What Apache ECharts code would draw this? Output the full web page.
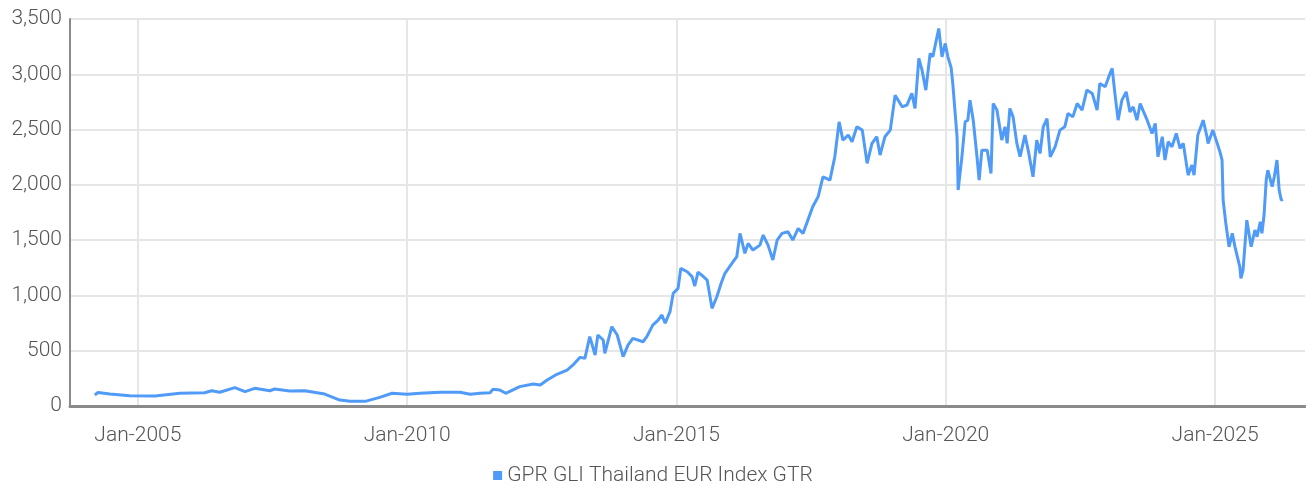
<!DOCTYPE html>
<html>
<head>
<meta charset="utf-8">
<title>GPR GLI Thailand EUR Index GTR</title>
<script src="https://cdn.jsdelivr.net/npm/echarts@6/dist/echarts.min.js"></script>
<style>
  html, body { margin: 0; padding: 0; background: #fff; }
  #chart { width: 1306px; height: 493px; }
</style>
</head>
<body>
<div id="chart"></div>
<script>
// time as decimal years
var years = [
  2004.20, 2004.26, 2004.48, 2004.85, 2005.32, 2005.78, 2006.24, 2006.37, 2006.52, 2006.80,
  2006.99, 2007.17, 2007.45, 2007.54, 2007.82, 2008.10, 2008.47, 2008.75, 2008.94, 2009.22,
  2009.49, 2009.72, 2010.00, 2010.24, 2010.61, 2010.98, 2011.17, 2011.35, 2011.54, 2011.59,
  2011.72, 2011.83, 2012.09, 2012.34, 2012.47, 2012.60, 2012.78, 2012.97, 2013.08, 2013.21,
  2013.30, 2013.39, 2013.49, 2013.54, 2013.64, 2013.67, 2013.80, 2013.90, 2014.01, 2014.10,
  2014.19, 2014.38, 2014.45, 2014.56, 2014.66, 2014.73, 2014.79, 2014.88, 2014.94, 2015.03,
  2015.08, 2015.20, 2015.29, 2015.34, 2015.40, 2015.47, 2015.57, 2015.66, 2015.75, 2015.83,
  2015.90, 2016.03, 2016.12, 2016.18, 2016.27, 2016.33, 2016.42, 2016.55, 2016.61, 2016.70,
  2016.79, 2016.87, 2016.96, 2017.07, 2017.16, 2017.26, 2017.35, 2017.44, 2017.53, 2017.63,
  2017.72, 2017.85, 2017.94, 2018.02, 2018.09, 2018.19, 2018.26, 2018.35, 2018.45, 2018.54,
  2018.63, 2018.72, 2018.78, 2018.87, 2018.97, 2019.06, 2019.19, 2019.28, 2019.37, 2019.43,
  2019.50, 2019.56, 2019.63, 2019.71, 2019.76, 2019.87, 2019.93, 2019.99, 2020.04, 2020.10,
  2020.13, 2020.21, 2020.23, 2020.30, 2020.36, 2020.41, 2020.45, 2020.51, 2020.58, 2020.62,
  2020.67, 2020.77, 2020.84, 2020.88, 2020.95, 2021.04, 2021.10, 2021.14, 2021.19, 2021.25,
  2021.32, 2021.38, 2021.47, 2021.53, 2021.62, 2021.69, 2021.75, 2021.81, 2021.88, 2021.94,
  2022.03, 2022.12, 2022.21, 2022.27, 2022.36, 2022.44, 2022.53, 2022.62, 2022.72, 2022.81,
  2022.86, 2022.96, 2023.05, 2023.09, 2023.14, 2023.20, 2023.27, 2023.35, 2023.42, 2023.48,
  2023.55, 2023.61, 2023.66, 2023.74, 2023.83, 2023.89, 2023.94, 2024.02, 2024.07, 2024.13,
  2024.20, 2024.28, 2024.35, 2024.41, 2024.50, 2024.57, 2024.61, 2024.68, 2024.78, 2024.85,
  2024.87, 2024.96, 2025.04, 2025.09, 2025.13, 2025.15, 2025.20, 2025.26, 2025.32, 2025.37,
  2025.46, 2025.48, 2025.52, 2025.59, 2025.67, 2025.74, 2025.78, 2025.84, 2025.87, 2025.91,
  2025.95, 2025.98, 2026.06, 2026.10, 2026.15, 2026.19, 2026.23, 2026.26
];
var indexValues = [
  100, 122, 108, 93, 90, 115, 120, 138, 124, 166,
  130, 160, 138, 154, 136, 138, 108, 54, 42, 42,
  78, 115, 106, 115, 124, 124, 106, 115, 120, 151,
  145, 115, 175, 199, 190, 235, 287, 325, 371, 440,
  431, 627, 461, 642, 597, 476, 717, 642, 446, 551,
  612, 581, 627, 732, 777, 823, 748, 853, 1019, 1064,
  1245, 1214, 1170, 1085, 1210, 1184, 1139, 883, 988, 1110,
  1200, 1290, 1350, 1561, 1380, 1471, 1410, 1455, 1546, 1455,
  1320, 1501, 1561, 1576, 1501, 1606, 1561, 1681, 1802, 1892,
  2073, 2043, 2254, 2570, 2405, 2450, 2390, 2525, 2495, 2194,
  2375, 2435, 2269, 2435, 2495, 2811, 2706, 2721, 2827, 2691,
  3143, 3037, 2857, 3188, 3158, 3414, 3158, 3279, 3158, 3060,
  2917, 2435, 1953, 2254, 2570, 2585, 2766, 2585, 2254, 2043,
  2314, 2314, 2103, 2736, 2676, 2405, 2525, 2375, 2691, 2615,
  2375, 2254, 2450, 2314, 2073, 2405, 2284, 2525, 2600, 2254,
  2344, 2495, 2525, 2646, 2615, 2736, 2676, 2857, 2827, 2676,
  2917, 2887, 3008, 3053, 2827, 2585, 2766, 2841, 2660, 2706,
  2585, 2736, 2676, 2585, 2465, 2556, 2254, 2435, 2224, 2390,
  2344, 2465, 2330, 2375, 2088, 2179, 2088, 2450, 2585, 2435,
  2375, 2495, 2375, 2300, 2224, 1862, 1652, 1440, 1561, 1440,
  1259, 1154, 1229, 1681, 1440, 1591, 1531, 1666, 1561, 1727,
  2043, 2133, 1983, 2073, 2224, 1953, 1862, 1868
];
var labelYears = [2005, 2010, 2015, 2020, 2025];
var seriesName = 'GPR GLI Thailand EUR Index GTR';

var chart = echarts.init(document.getElementById('chart'));
var points = years.map(function (y, i) { return [y, indexValues[i]]; });
var font = "Roboto, 'Noto Sans', sans-serif";

chart.setOption({
  animation: false,
  grid: { left: 70, right: 1, top: 19, bottom: 87, containLabel: false },
  legend: {
    data: [seriesName],
    bottom: 2,
    left: 'center',
    icon: 'rect',
    itemWidth: 9,
    itemHeight: 9,
    itemGap: 6,
    textStyle: { color: '#555', fontSize: 21, fontFamily: font, fontWeight: 300 }
  },
  xAxis: {
    type: 'value',
    min: 2003.74,
    max: 2026.67,
    axisLine: { show: true, onZero: false, lineStyle: { color: '#8a8a8a', width: 3 } },
    axisTick: { show: false, customValues: labelYears },
    axisLabel: {
      customValues: labelYears,
      margin: 19,
      color: '#555',
      fontSize: 21,
      fontFamily: font,
      fontWeight: 300,
      formatter: function (v) { return 'Jan-' + Math.round(v); }
    },
    splitLine: { show: true, lineStyle: { color: '#e6e6e6', width: 2 } }
  },
  yAxis: {
    type: 'value',
    min: 0,
    max: 3500,
    interval: 500,
    axisLine: { show: true, lineStyle: { color: '#8a8a8a', width: 2 } },
    axisTick: { show: false },
    axisLabel: {
      margin: 8,
      color: '#555',
      fontSize: 21,
      fontFamily: font,
      fontWeight: 300,
      formatter: function (v) { return v.toLocaleString('en-US'); }
    },
    splitLine: { show: true, lineStyle: { color: '#e6e6e6', width: 2 } }
  },
  series: [{
    name: seriesName,
    type: 'line',
    data: points,
    showSymbol: false,
    symbol: 'none',
    lineStyle: { color: '#4f9bf7', width: 3 },
    itemStyle: { color: '#4f9bf7' }
  }]
});
</script>
</body>
</html>
